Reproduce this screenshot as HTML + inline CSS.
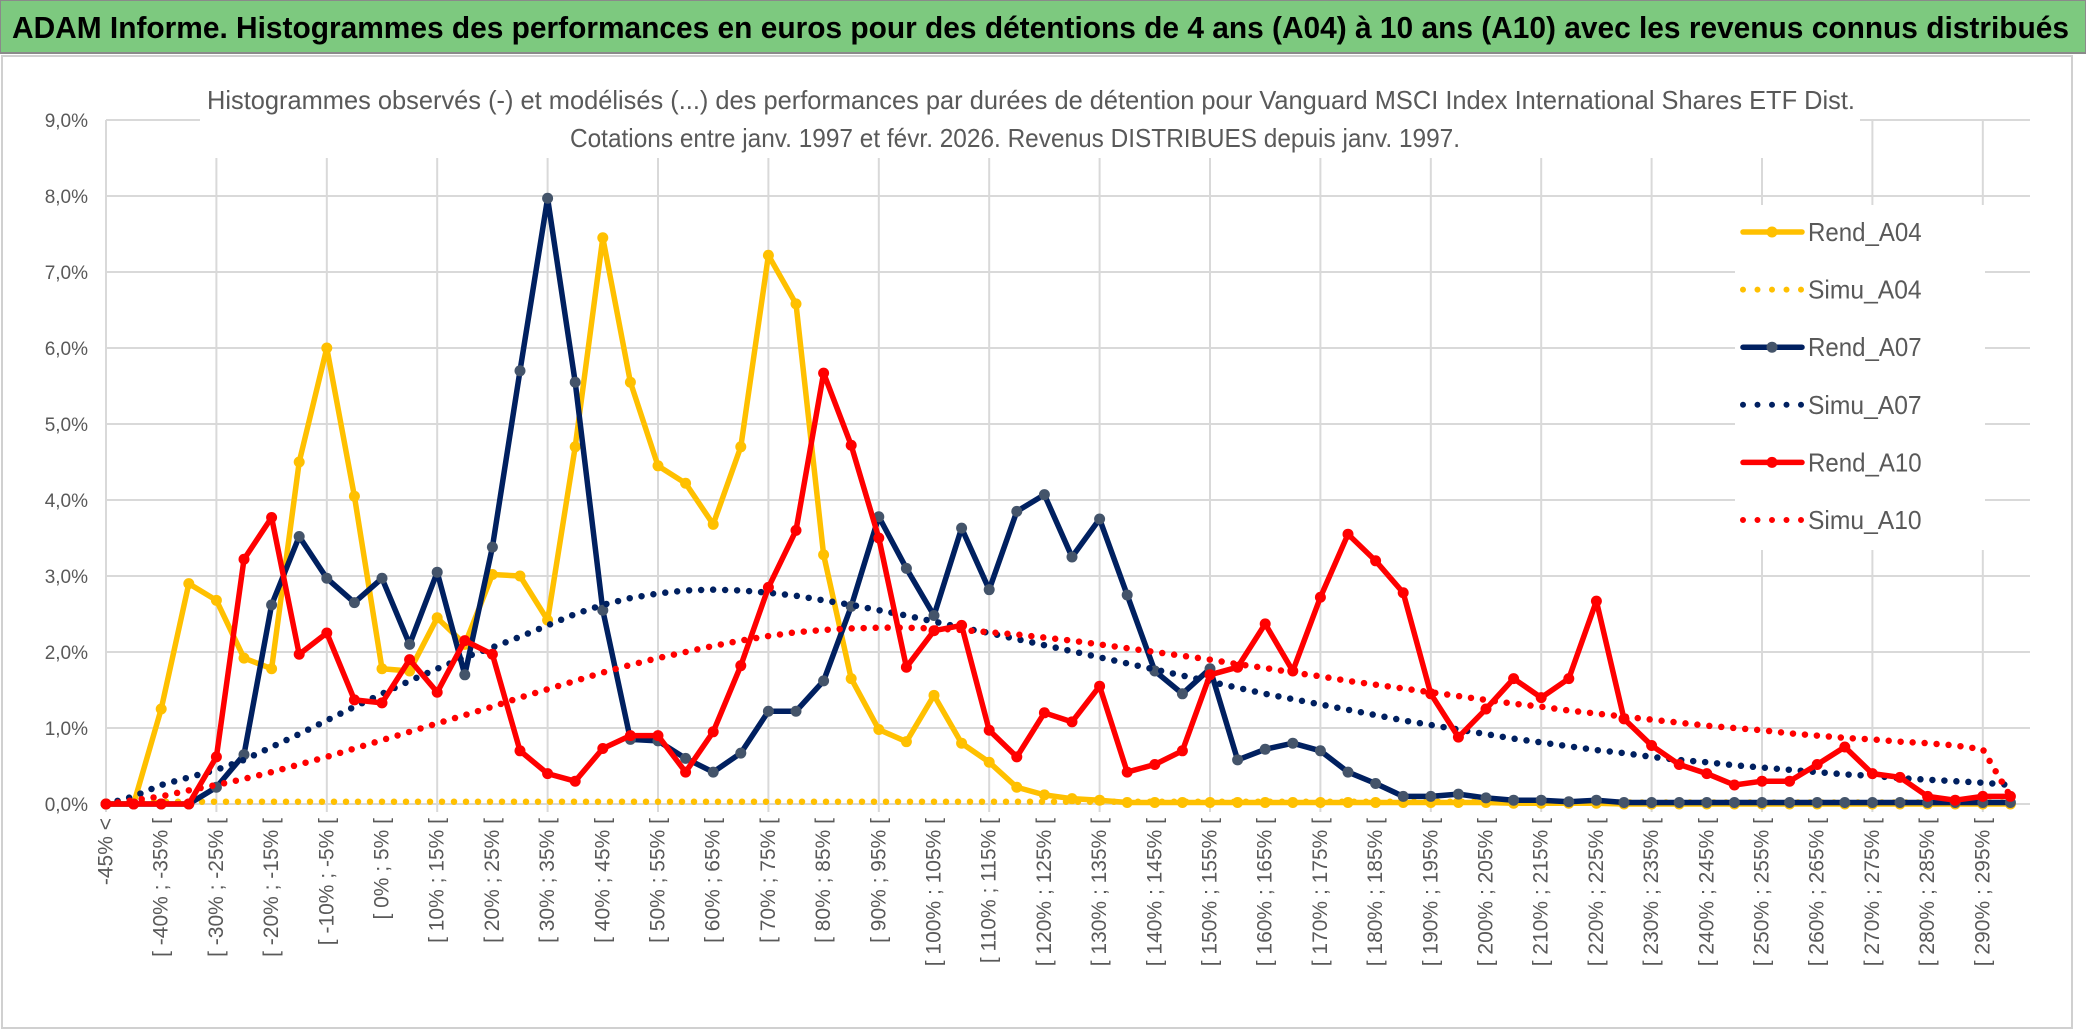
<!DOCTYPE html>
<html><head><meta charset="utf-8"><style>
body{margin:0;background:#fff;}
svg{display:block;font-family:"Liberation Sans",sans-serif;}
</style></head><body>
<svg id="chart" width="2086" height="1031" viewBox="0 0 2086 1031">
<rect x="0" y="0" width="2086" height="1031" fill="#fff"/>
<rect x="0" y="0" width="2086" height="53" fill="#7dc97f" stroke="#8a8a8a" stroke-width="2"/>
<text x="12" y="38" font-size="31" font-weight="bold" fill="#000" textLength="2057" lengthAdjust="spacingAndGlyphs">ADAM Informe. Histogrammes des performances en euros pour des détentions de 4 ans (A04) à 10 ans (A10) avec les revenus connus distribués</text>
<rect x="2" y="56" width="2070" height="972" fill="none" stroke="#d0d0d0" stroke-width="2"/>
<g id="grid"></g>
<rect x="200" y="62" width="1660" height="96" fill="#fff"/>
<text x="1031" y="109" font-size="26" fill="#595959" text-anchor="middle" textLength="1648" lengthAdjust="spacingAndGlyphs">Histogrammes observés (-) et modélisés (...) des performances par durées de détention pour Vanguard MSCI Index International Shares ETF Dist.</text>
<text x="1015" y="147" font-size="26" fill="#595959" text-anchor="middle" textLength="890" lengthAdjust="spacingAndGlyphs">Cotations entre janv. 1997 et févr. 2026. Revenus DISTRIBUES depuis janv. 1997.</text>
<g id="series"></g>
<g id="xlabels"></g>
<g id="legend"></g>
</svg>
<script>
var categories=["-45% <","[ -45% ; -40% [","[ -40% ; -35% [","[ -35% ; -30% [","[ -30% ; -25% [","[ -25% ; -20% [","[ -20% ; -15% [","[ -15% ; -10% [","[ -10% ; -5% [","[ -5% ; 0% [","[ 0% ; 5% [","[ 5% ; 10% [","[ 10% ; 15% [","[ 15% ; 20% [","[ 20% ; 25% [","[ 25% ; 30% [","[ 30% ; 35% [","[ 35% ; 40% [","[ 40% ; 45% [","[ 45% ; 50% [","[ 50% ; 55% [","[ 55% ; 60% [","[ 60% ; 65% [","[ 65% ; 70% [","[ 70% ; 75% [","[ 75% ; 80% [","[ 80% ; 85% [","[ 85% ; 90% [","[ 90% ; 95% [","[ 95% ; 100% [","[ 100% ; 105% [","[ 105% ; 110% [","[ 110% ; 115% [","[ 115% ; 120% [","[ 120% ; 125% [","[ 125% ; 130% [","[ 130% ; 135% [","[ 135% ; 140% [","[ 140% ; 145% [","[ 145% ; 150% [","[ 150% ; 155% [","[ 155% ; 160% [","[ 160% ; 165% [","[ 165% ; 170% [","[ 170% ; 175% [","[ 175% ; 180% [","[ 180% ; 185% [","[ 185% ; 190% [","[ 190% ; 195% [","[ 195% ; 200% [","[ 200% ; 205% [","[ 205% ; 210% [","[ 210% ; 215% [","[ 215% ; 220% [","[ 220% ; 225% [","[ 225% ; 230% [","[ 230% ; 235% [","[ 235% ; 240% [","[ 240% ; 245% [","[ 245% ; 250% [","[ 250% ; 255% [","[ 255% ; 260% [","[ 260% ; 265% [","[ 265% ; 270% [","[ 270% ; 275% [","[ 275% ; 280% [","[ 280% ; 285% [","[ 285% ; 290% [","[ 290% ; 295% [","[ 295% ; 300% ["];
var yTicks=[0,1,2,3,4,5,6,7,8,9];
var yTickLabels=["0,0%","1,0%","2,0%","3,0%","4,0%","5,0%","6,0%","7,0%","8,0%","9,0%"];
var rendA04=[0,0,1.25,2.9,2.68,1.92,1.78,4.5,6.0,4.05,1.78,1.75,2.45,2.1,3.02,3.0,2.42,4.7,7.45,5.55,4.45,4.22,3.68,4.7,7.22,6.58,3.28,1.65,0.98,0.82,1.43,0.8,0.55,0.22,0.12,0.07,0.05,0.02,0.02,0.02,0.02,0.02,0.02,0.02,0.02,0.02,0.02,0.02,0.02,0.02,0.02,0.01,0.01,0.01,0.01,0,0,0,0,0,0,0,0,0,0,0,0,0,0,0];
var simuA04=[0.03,0.03,0.03,0.03,0.03,0.03,0.03,0.03,0.03,0.03,0.03,0.03,0.03,0.03,0.03,0.03,0.03,0.03,0.03,0.03,0.03,0.03,0.03,0.03,0.03,0.03,0.03,0.03,0.03,0.03,0.03,0.03,0.03,0.03,0.03,0.03,0.03,0.03,0.03,0.03,0.03,0.03,0.03,0.03,0.03,0.03,0.03,0.03,0.03,0.03,0.03,0.02,0.02,0.02,0.02,0.02,0.02,0.02,0.02,0.02,0.02,0.02,0.02,0.02,0.02,0.02,0.02,0.02,0.02,0.02];
var rendA07=[0,0,0,0,0.22,0.65,2.62,3.52,2.97,2.65,2.97,2.1,3.05,1.7,3.38,5.7,7.97,5.55,2.55,0.85,0.83,0.6,0.42,0.67,1.22,1.22,1.62,2.6,3.78,3.1,2.48,3.63,2.82,3.85,4.07,3.25,3.75,2.75,1.75,1.45,1.78,0.58,0.72,0.8,0.7,0.42,0.27,0.1,0.1,0.13,0.08,0.05,0.05,0.03,0.05,0.02,0.02,0.02,0.02,0.02,0.02,0.02,0.02,0.02,0.02,0.02,0.02,0.02,0.02,0.02];
var simuA07=[0,0.1,0.25,0.35,0.45,0.58,0.75,0.92,1.1,1.28,1.45,1.62,1.78,1.93,2.06,2.2,2.35,2.5,2.62,2.71,2.77,2.81,2.82,2.81,2.78,2.74,2.68,2.62,2.55,2.48,2.4,2.32,2.25,2.17,2.09,2.01,1.93,1.85,1.77,1.69,1.61,1.53,1.45,1.38,1.31,1.24,1.17,1.1,1.04,0.98,0.92,0.86,0.81,0.76,0.71,0.67,0.62,0.58,0.55,0.51,0.48,0.45,0.42,0.39,0.37,0.34,0.32,0.3,0.28,0.25];
var rendA10=[0,0,0,0,0.62,3.22,3.77,1.97,2.25,1.37,1.33,1.9,1.47,2.15,1.97,0.7,0.4,0.3,0.73,0.9,0.9,0.42,0.95,1.82,2.85,3.6,5.67,4.72,3.5,1.8,2.28,2.35,0.97,0.62,1.2,1.08,1.55,0.42,0.52,0.7,1.7,1.8,2.37,1.75,2.72,3.55,3.2,2.78,1.45,0.88,1.25,1.65,1.4,1.65,2.67,1.12,0.77,0.52,0.4,0.25,0.3,0.3,0.52,0.75,0.4,0.35,0.1,0.05,0.1,0.1];
var simuA10=[0,0.05,0.1,0.18,0.25,0.33,0.42,0.52,0.62,0.73,0.84,0.95,1.06,1.17,1.28,1.4,1.51,1.62,1.73,1.83,1.92,2.0,2.08,2.15,2.21,2.26,2.29,2.31,2.32,2.32,2.31,2.29,2.26,2.23,2.19,2.15,2.1,2.05,2.0,1.95,1.9,1.84,1.79,1.73,1.68,1.62,1.57,1.52,1.47,1.42,1.37,1.32,1.28,1.23,1.19,1.15,1.11,1.07,1.03,1.0,0.97,0.93,0.9,0.87,0.85,0.82,0.8,0.77,0.72,0.1];
var seriesNames=["Rend_A04","Simu_A04","Rend_A07","Simu_A07","Rend_A10","Simu_A10"];

var NS="http://www.w3.org/2000/svg";
var X0=106,DX=27.6,Y0=804,DY=76.0,PR=2030;
function xPos(i){return X0+i*DX;}
function yPos(v){return Y0-v*DY;}
function mk(tag,attrs,parent){var e=document.createElementNS(NS,tag);for(var k in attrs)e.setAttribute(k,attrs[k]);parent.appendChild(e);return e;}

var grid=document.getElementById('grid');
yTicks.forEach(function(t,k){
  var l=mk('line',{x1:X0,x2:PR,y1:yPos(t),y2:yPos(t),stroke:'#d9d9d9','stroke-width':2},grid);
  
  
  var tx=mk('text',{x:88,y:yPos(t)+7,'font-size':19,fill:'#595959','text-anchor':'end'},grid);
  tx.textContent=yTickLabels[k];
  
  
});
for(var i=0;i<categories.length;i+=4){
  var vl=mk('line',{x1:xPos(i),x2:xPos(i),y1:yPos(9),y2:Y0+8,stroke:'#d9d9d9','stroke-width':2},grid);
  
  
}

var xl=document.getElementById('xlabels');
categories.forEach(function(c,i){
  if(i%2)return;
  var x=xPos(i),y=818;
  var t=mk('text',{x:x,y:y,'font-size':21,fill:'#595959','text-anchor':'end','dominant-baseline':'central',transform:'rotate(-90 '+x+' '+y+')'},xl);
  t.textContent=c;
  
  
});

var sg=document.getElementById('series');
function solid(data,color,mcol,name){
  var g=mk('g',{},sg);
  
  
  var pts=data.map(function(v,i){return xPos(i)+','+yPos(v);}).join(' ');
  mk('polyline',{points:pts,fill:'none',stroke:color,'stroke-width':5.5,'stroke-linejoin':'round'},g);
  data.forEach(function(v,i){
    var c=mk('circle',{cx:xPos(i),cy:yPos(v),r:5.5,fill:mcol},g);
    
    
  });
}
function dotted(data,color,name){
  var pts=data.map(function(v,i){return xPos(i)+','+yPos(v);}).join(' ');
  var p=mk('polyline',{points:pts,fill:'none',stroke:color,'stroke-width':6.5,'stroke-linecap':'round','stroke-dasharray':'0 12'},sg);
  
  
}
solid(rendA04,'#ffc000','#ffc000','series-rend-a04');
dotted(simuA04,'#ffc000','series-simu-a04');
solid(rendA07,'#002060','#44546a','series-rend-a07');
dotted(simuA07,'#002060','series-simu-a07');
solid(rendA10,'#ff0000','#ff0000','series-rend-a10');
dotted(simuA10,'#ff0000','series-simu-a10');

var lg=document.getElementById('legend');
mk('rect',{x:1735,y:205,width:250,height:345,fill:'#fff'},lg);
var lcols=['#ffc000','#ffc000','#002060','#002060','#ff0000','#ff0000'];
var mcols=['#ffc000','#ffc000','#44546a','#44546a','#ff0000','#ff0000'];
seriesNames.forEach(function(n,k){
  var y=232+k*57.6;
  var g=mk('g',{},lg);
  
  
  if(k%2===0){
    mk('line',{x1:1743,x2:1802,y1:y,y2:y,stroke:lcols[k],'stroke-width':5.5,'stroke-linecap':'round'},g);
    mk('circle',{cx:1772,cy:y,r:5.5,fill:mcols[k]},g);
  }else{
    mk('line',{x1:1743,x2:1802,y1:y,y2:y,stroke:lcols[k],'stroke-width':6,'stroke-linecap':'round','stroke-dasharray':'0 14.5'},g);
  }
  var t=mk('text',{x:1808,y:y+9,'font-size':26,fill:'#595959',textLength:n.length*14.2,lengthAdjust:'spacingAndGlyphs'},g);
  t.textContent=n;
});
</script>
</body></html>
